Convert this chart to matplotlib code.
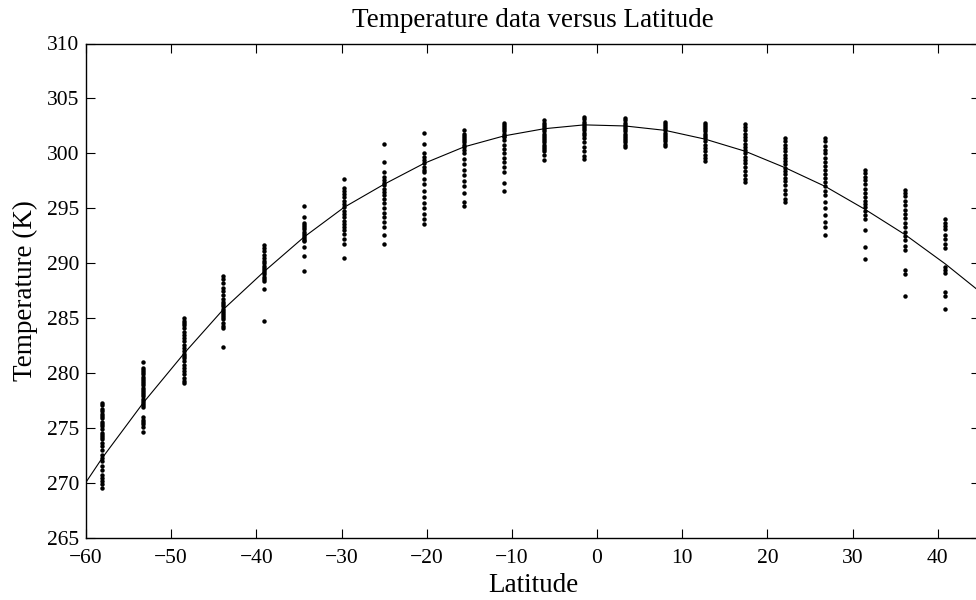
import matplotlib
matplotlib.use("Agg")
import matplotlib.pyplot as plt

plt.rcParams["font.family"] = ["Liberation Serif", "DejaVu Serif"]

# latitude of each sampled column
lats = [-58.1, -53.3, -48.5, -43.9, -39.1, -34.4, -29.7, -25.0, -20.3, -15.6, -10.9,
        -6.2, -1.5, 3.3, 8.0, 12.7, 17.4, 22.1, 26.8, 31.5, 36.2, 40.9]

# temperature readings (K) per column
temps = [
    [277.3, 277.1, 276.8, 276.6, 276.3, 276.1, 275.9, 275.6, 275.4, 275.2, 274.9, 274.6,
     274.4, 274.2, 274.0, 273.7, 273.4, 273.0, 272.6, 272.3, 272.0, 271.6, 271.2, 270.8,
     270.5, 270.2, 269.9, 269.6],
    [281.0, 280.5, 280.3, 280.1, 279.9, 279.7, 279.5, 279.3, 279.1, 278.9, 278.7, 278.5,
     278.3, 278.1, 277.9, 277.7, 277.5, 277.3, 277.1, 276.9, 276.0, 275.8, 275.6, 275.4,
     275.1, 274.7],
    [285.0, 284.8, 284.6, 284.4, 284.1, 283.8, 283.5, 283.2, 282.9, 282.6, 282.3, 282.0,
     281.8, 281.6, 281.4, 281.1, 280.8, 280.5, 280.2, 279.9, 279.6, 279.3, 279.1],
    [288.9, 288.6, 288.2, 287.8, 287.5, 287.1, 286.8, 286.5, 286.3, 286.1, 285.9, 285.7,
     285.5, 285.3, 285.1, 284.9, 284.6, 284.3, 284.1, 282.4],
    [291.7, 291.4, 291.1, 290.8, 290.5, 290.2, 290.0, 289.8, 289.6, 289.4, 289.2, 289.0,
     288.8, 288.6, 288.4, 287.7, 284.8],
    [295.2, 294.2, 293.7, 293.5, 293.3, 293.1, 292.9, 292.7, 292.5, 292.3, 292.1, 292.0,
     291.5, 290.7, 289.3],
    [297.7, 296.9, 296.6, 296.3, 296.0, 295.7, 295.4, 295.1, 294.8, 294.5, 294.2, 293.9,
     293.6, 293.3, 293.0, 292.7, 292.2, 291.8, 290.5],
    [300.9, 299.2, 298.3, 297.9, 297.6, 297.3, 297.1, 296.8, 296.5, 296.2, 295.9, 295.5,
     295.0, 294.6, 294.2, 293.8, 293.3, 292.6, 291.8],
    [301.9, 300.9, 300.0, 299.7, 299.4, 299.1, 298.8, 298.5, 298.3, 297.7, 297.2, 296.6,
     296.0, 295.5, 295.0, 294.5, 294.0, 293.6],
    [302.1, 301.8, 301.6, 301.4, 301.2, 301.0, 300.8, 300.6, 300.3, 300.0, 299.5, 299.0,
     298.5, 298.0, 297.5, 297.0, 296.4, 295.6, 295.2],
    [302.8, 302.6, 302.4, 302.2, 302.0, 301.8, 301.6, 301.5, 301.2, 300.8, 300.4, 300.0,
     299.6, 299.2, 298.8, 298.3, 297.3, 296.6],
    [303.0, 302.8, 302.6, 302.4, 302.2, 302.0, 301.8, 301.6, 301.4, 301.2, 301.0, 300.8,
     300.6, 300.4, 300.2, 299.9, 299.4],
    [303.3, 303.1, 302.9, 302.7, 302.5, 302.3, 302.1, 301.9, 301.7, 301.4, 301.0, 300.6,
     300.2, 299.8, 299.5],
    [303.2, 303.0, 302.8, 302.6, 302.4, 302.2, 302.0, 301.8, 301.6, 301.4, 301.2, 301.0,
     300.8, 300.6],
    [302.9, 302.7, 302.5, 302.3, 302.1, 301.9, 301.7, 301.5, 301.3, 301.1, 300.9, 300.7],
    [302.8, 302.6, 302.4, 302.2, 302.0, 301.8, 301.6, 301.4, 301.1, 300.8, 300.5, 300.2,
     299.9, 299.6, 299.3],
    [302.7, 302.4, 302.1, 301.8, 301.5, 301.2, 300.9, 300.6, 300.3, 300.0, 299.7, 299.4,
     299.1, 298.8, 298.4, 298.0, 297.7, 297.4],
    [301.4, 301.1, 300.8, 300.5, 300.2, 299.9, 299.6, 299.3, 299.0, 298.7, 298.4, 298.1,
     297.8, 297.5, 297.1, 296.7, 296.3, 295.9, 295.6],
    [301.4, 301.1, 300.7, 300.3, 300.0, 299.6, 299.2, 298.9, 298.5, 298.1, 297.8, 297.4,
     297.0, 296.6, 296.2, 295.6, 295.0, 294.4, 293.8, 293.3, 292.6],
    [298.5, 298.2, 297.9, 297.6, 297.2, 296.8, 296.4, 296.0, 295.7, 295.4, 295.1, 294.8,
     294.4, 294.0, 293.0, 291.5, 290.4],
    [296.7, 296.4, 296.1, 295.7, 295.3, 294.9, 294.5, 294.1, 293.7, 293.3, 292.9, 292.5,
     292.1, 291.6, 291.2, 289.4, 289.0, 287.0],
    [294.0, 293.7, 293.4, 293.1, 292.6, 292.2, 291.8, 291.4, 289.7, 289.4, 289.1, 287.4,
     287.0, 285.9],
]

# fitted curve, read at the column latitudes plus the axis ends
curve_lat = [-60.0, -58.1, -53.3, -48.5, -43.9, -39.1, -34.4, -29.7, -25.0, -20.3, -15.6,
             -10.9, -6.2, -1.5, 3.3, 8.0, 12.7, 17.4, 22.1, 26.8, 31.5, 36.2, 40.9, 45.0]
curve_temp = [270.1, 272.3, 277.3, 281.8, 285.8, 289.25, 292.4, 295.1, 297.2, 299.1, 300.6,
              301.6, 302.25, 302.6, 302.5, 302.1, 301.3, 300.2, 298.7, 297.0, 294.9, 292.6,
              289.95, 287.4]

fig = plt.figure(figsize=(9.76, 6), dpi=100)
ax = fig.add_axes([0.0881, 0.1028, 0.9163, 0.8247])

for lat, col in zip(lats, temps):
    ax.plot([lat] * len(col), col, "o", color="k", ms=3.2, mew=0, ls="none")
ax.plot(curve_lat, curve_temp, "-", color="k", lw=0.8)

ax.set_xlim(-60, 45)
ax.set_ylim(265, 310)
ax.set_xticks(range(-60, 41, 10))
ax.set_yticks(range(265, 311, 5))
ax.tick_params(direction="in", length=6.5, width=0.8, top=True, right=True,
               labelsize=15.5, pad=5)
ax.tick_params(axis="x", pad=8)
for s in ax.spines.values():
    s.set_linewidth(1.0)

ax.set_xlabel("Latitude", fontsize=19.5, labelpad=3)
ax.set_ylabel("Temperature (K)", fontsize=19.5, labelpad=6)
ax.set_title("Temperature data versus Latitude", fontsize=19.5, pad=12)

fig.savefig("out.png", dpi=100)
